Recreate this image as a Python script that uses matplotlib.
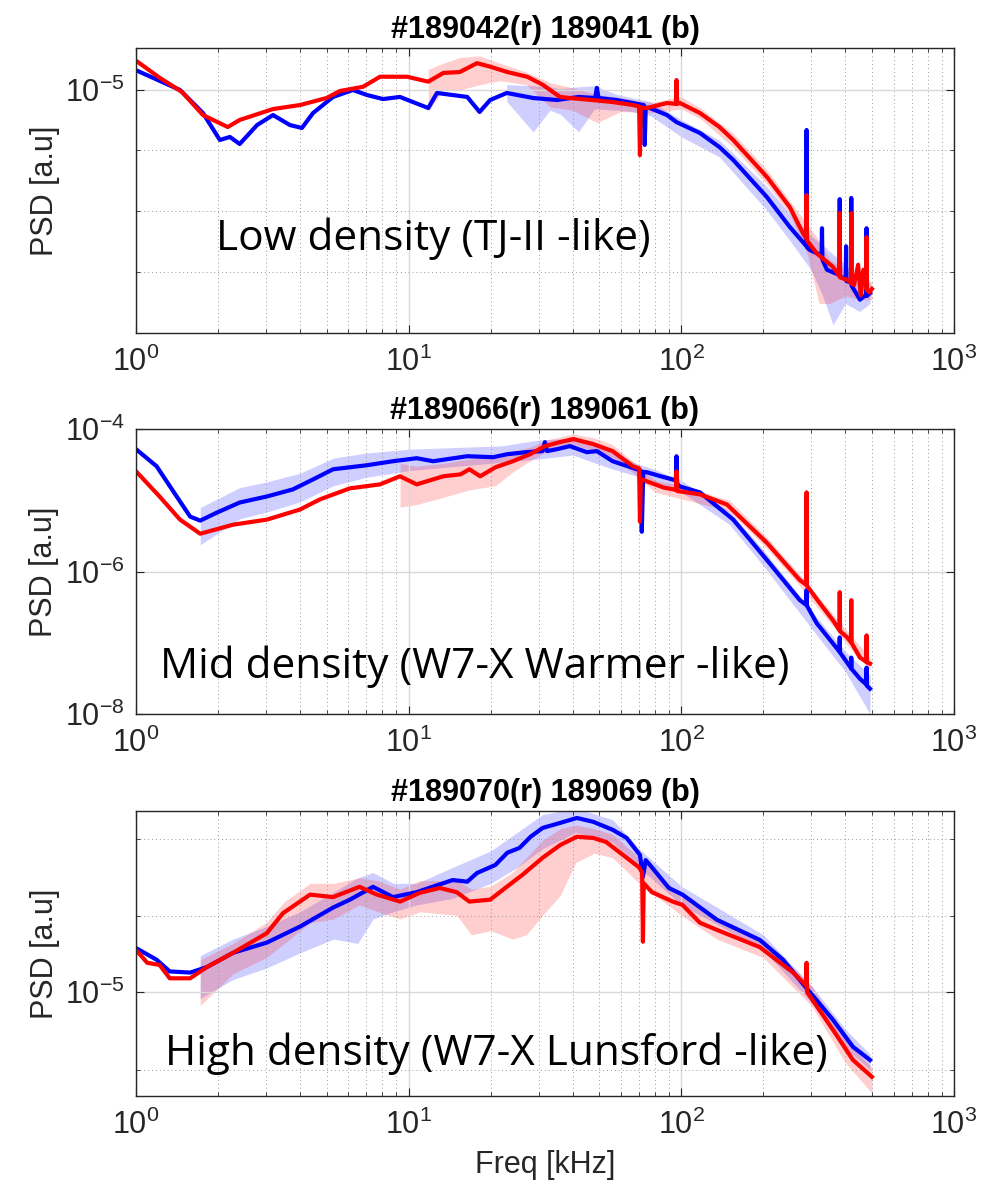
import numpy as np
import matplotlib.pyplot as plt
from matplotlib.ticker import FixedLocator, FixedFormatter, LogLocator, NullFormatter

plt.rcParams['font.family'] = ['Liberation Sans', 'DejaVu Sans']
plt.rcParams['mathtext.fontset'] = 'custom'
plt.rcParams['mathtext.rm'] = 'Liberation Sans'
plt.rcParams['mathtext.it'] = 'Liberation Sans:italic'
plt.rcParams['mathtext.bf'] = 'Liberation Sans:bold'

# ---------------- panel 1: #189042 (red) / 189041 (blue), low density
f1_blue = [1.0, 1.45, 1.76, 2.03, 2.21, 2.40, 2.78, 3.18, 3.67, 4.06, 4.46, 5.28, 6.25, 7.03,
           8.05, 9.29, 11.8, 12.7, 16.4, 18.2, 19.9, 22.9, 28.6, 35.0, 42.0, 48.3, 49.0, 49.7,
           58.0, 66.4, 72.8, 73.4, 74.0, 76.7, 88.6, 96.0, 117, 138, 155, 206, 250, 287, 288,
           289, 296, 327, 328, 329, 342, 380, 381, 382, 401, 402, 403, 419, 420, 421, 452, 477,
           478, 479, 492]
psd1_blue = np.array([12.0, 10.0, 8.09, 6.31, 6.49, 6.08, 7.24, 7.94, 7.24, 7.05, 8.09, 9.38, 10.0, 9.55,
             9.20, 9.38, 8.47, 9.73, 9.38, 8.17, 9.12, 9.73, 9.29, 9.12, 9.38, 9.29, 10.2, 9.29,
             9.12, 8.87, 8.70, 6.03, 8.50, 8.47, 7.94, 7.44, 6.73, 5.91, 5.25, 3.73, 2.83, 2.38, 6.92,
             2.35, 2.29, 2.18, 2.80, 2.10, 1.91, 1.82, 3.66, 1.80, 1.75, 2.37, 1.72, 1.70, 3.70, 1.65, 1.45, 1.52,
             2.80, 1.50, 1.54]) * 1e-6
f1_red = [1.0, 1.22, 1.475, 1.76, 2.17, 2.40, 3.18, 4.0, 5.0, 5.6, 6.8, 7.85, 9.86, 11.8, 13.4,
          15.4, 17.8, 19.9, 23.0, 27.2, 31.0, 35.9, 39.0, 47.0, 56.0, 66.4, 70.0, 70.5, 71.0, 74.8,
          88.6, 95.5, 96.0, 96.5, 98.9, 117, 138, 155, 206, 250, 279, 287, 288, 289, 314, 360, 380,
          381, 382, 405, 419, 420, 421, 430, 445, 455, 465, 477, 478, 479, 490, 500]
psd1_red = np.array([13.1, 11.2, 9.82, 7.94, 7.11, 7.59, 8.39, 8.71, 9.29, 9.91, 10.3, 11.3, 11.3, 10.8, 11.7,
            11.8, 12.8, 12.4, 11.8, 11.3, 10.5, 9.38, 9.29, 9.12, 8.95, 8.71, 8.6, 5.49, 8.5, 8.47,
            8.87, 8.8, 10.96, 8.8, 8.87, 8.09, 7.11, 6.31, 4.49, 3.40, 2.68, 2.55, 3.80, 2.50, 2.22, 1.96, 1.80,
            3.22, 1.78, 1.74, 1.70, 3.22, 1.68, 1.66, 2.0, 1.51, 1.91, 1.60, 2.58, 1.58, 1.55, 1.6]) * 1e-6
band1_blue_f = [22.9, 28.6, 33, 36, 42, 48, 58, 66, 77, 100, 138, 206, 250, 300, 330, 360, 400, 450, 492]
band1_blue_lo = np.array([9.0, 6.8, 8.3, 8.0, 6.8, 8.4, 8.3, 8.2, 7.9, 6.5, 5.4, 3.3, 2.5, 1.9, 1.5, 1.15, 1.4, 1.3, 1.4]) * 1e-6
band1_blue_hi = np.array([10.5, 10.4, 10.3, 10.1, 10.3, 10.4, 9.6, 9.3, 9.0, 7.6, 6.3, 4.1, 3.2, 2.6, 2.4, 2.2, 2.0, 1.7, 1.7]) * 1e-6
band1_red_f = [11.8, 13.4, 15.4, 18.2, 21.6, 27, 33, 40, 49, 60, 77, 100, 117, 155, 206, 250, 290, 320, 350, 400, 450, 500]
band1_red_lo = np.array([8.2, 10.0, 10.0, 10.5, 10.9, 10.5, 8.55, 8.3, 7.4, 8.2, 8.1, 8.4, 7.7, 5.9, 4.2, 3.2, 2.2, 1.4, 1.4, 1.5, 1.45, 1.45]) * 1e-6
band1_red_hi = np.array([12.1, 12.8, 13.5, 13.7, 12.8, 11.8, 10.7, 10.2, 9.6, 9.3, 8.9, 9.4, 8.5, 6.7, 4.8, 3.6, 2.9, 2.5, 2.1, 1.9, 1.8, 1.7]) * 1e-6

# ---------------- panel 2: #189066 (red) / 189061 (blue), mid density
f2_blue = [1.0, 1.19, 1.41, 1.58, 1.72, 1.98, 2.40, 3.02, 3.76, 4.46, 5.28, 7.03, 8.76, 10.7, 12.3,
           16.4, 20.4, 23.0, 27.0, 31.0, 31.6, 32.2, 35.0, 39.0, 45.0, 49.0, 56.0, 68.7, 71.0, 71.6,
           72.5, 74.8, 84.0, 95.5, 96.0, 96.5, 98.9, 117, 155, 206, 272, 287, 288, 289, 314, 360,
           380, 381, 382, 419, 420, 421, 452, 477, 478, 479, 492]
psd2_blue = [5.21e-5, 3.00e-5, 1.13e-5, 5.89e-6, 5.18e-6, 6.71e-6, 9.29e-6, 1.13e-5, 1.42e-5, 1.96e-5,
             2.72e-5, 3.10e-5, 3.53e-5, 3.89e-5, 3.53e-5, 4.15e-5, 4.02e-5, 4.43e-5, 4.73e-5, 4.9e-5,
             6.55e-5, 4.9e-5, 5.21e-5, 5.75e-5, 4.73e-5, 4.89e-5, 3.53e-5, 2.72e-5, 2.6e-5, 3.61e-6,
             2.5e-5, 2.47e-5, 2.17e-5, 1.9e-5, 4.15e-5, 1.7e-5, 1.56e-5, 1.29e-5, 5.35e-6, 1.45e-6,
             3.96e-7, 3.4e-7, 5.48e-7, 3.3e-7, 1.87e-7, 9.75e-8, 7.5e-8, 1.19e-7, 7.3e-8, 4.4e-8,
             6.19e-8, 4.3e-8, 3.12e-8, 2.6e-8, 4.47e-8, 2.5e-8, 2.26e-8]
f2_red = [1.0, 1.22, 1.45, 1.72, 2.27, 3.02, 3.99, 4.73, 6.09, 7.85, 9.29, 10.7, 13.4, 15.5, 16.7,
          18.3, 20.8, 24.1, 27.9, 31.6, 35.9, 40.2, 47.5, 56.0, 66.4, 70.0, 70.5, 71.0, 74.8, 86.0,
          95.5, 96.0, 96.5, 98.9, 117, 147, 206, 272, 287, 288, 289, 320, 360, 380, 381, 382, 405,
          419, 420, 421, 452, 477, 478, 479, 492]
psd2_red = [2.55e-5, 1.13e-5, 5.35e-6, 3.39e-6, 4.54e-6, 5.35e-6, 7.40e-6, 1.03e-5, 1.47e-5, 1.67e-5,
            2.17e-5, 1.67e-5, 2.17e-5, 2.31e-5, 2.72e-5, 2.17e-5, 2.90e-5, 3.53e-5, 4.43e-5, 5.75e-5,
            6.55e-5, 7.22e-5, 6.14e-5, 4.89e-5, 3.00e-5, 2.8e-5, 5.01e-6, 2.0e-5, 1.84e-5, 1.51e-5,
            1.4e-5, 2.55e-5, 1.35e-5, 1.33e-5, 1.21e-5, 8.71e-6, 2.53e-6, 7.58e-7, 6.5e-7, 1.29e-5,
            6.3e-7, 3.7e-7, 2.06e-7, 1.5e-7, 5.13e-7, 1.45e-7, 1.2e-7, 1.02e-7, 3.96e-7, 1.0e-7,
            6.19e-8, 5.4e-8, 1.27e-7, 5.3e-8, 5.09e-8]
band2_blue_f = [1.72, 2.4, 3.0, 4.0, 5.3, 7.0, 10, 15, 22, 30, 40, 55, 68, 80, 100, 150, 200, 300, 400, 492]
band2_blue_lo = [2.37e-6, 5.5e-6, 6.8e-6, 9.5e-6, 1.6e-5, 2.1e-5, 2.6e-5, 3.0e-5, 3.4e-5, 3.8e-5,
                 4.3e-5, 2.8e-5, 2.2e-5, 1.8e-5, 1.3e-5, 4.6e-6, 1.2e-6, 1.6e-7, 3.9e-8, 1.0e-8]
band2_blue_hi = [7.9e-6, 1.5e-5, 1.8e-5, 2.4e-5, 3.9e-5, 4.6e-5, 5.2e-5, 5.5e-5, 5.8e-5, 7.0e-5,
                 7.4e-5, 5.0e-5, 3.3e-5, 2.7e-5, 1.9e-5, 7.0e-6, 2.0e-6, 2.8e-7, 7.5e-8, 3.5e-8]
band2_red_f = [9.3, 10.7, 13.4, 16.7, 20.8, 24.1, 28, 32, 40, 48, 56, 66, 80, 100, 150, 206, 272, 360, 420, 492]
band2_red_lo = [8.0e-6, 8.7e-6, 1.1e-5, 1.4e-5, 1.6e-5, 2.5e-5, 3.6e-5, 4.8e-5, 6.0e-5, 5.0e-5,
                4.0e-5, 2.5e-5, 1.3e-5, 1.05e-5, 7.0e-6, 2.1e-6, 6.3e-7, 1.7e-7, 8.0e-8, 4.2e-8]
band2_red_hi = [3.3e-5, 3.0e-5, 3.3e-5, 3.8e-5, 4.2e-5, 4.8e-5, 5.6e-5, 7.0e-5, 8.5e-5, 7.5e-5,
                6.0e-5, 3.6e-5, 1.9e-5, 1.6e-5, 1.0e-5, 3.0e-6, 9.0e-7, 2.5e-7, 1.25e-7, 6.2e-8]

# ---------------- panel 3: #189070 (red) / 189069 (blue), high density
f3_blue = [1.0, 1.19, 1.33, 1.58, 1.82, 2.27, 3.02, 3.99, 5.28, 6.09, 7.40, 8.76, 10.7, 14.5, 16.4,
           17.8, 20.8, 23.0, 25.5, 28.0, 31.0, 36.0, 41.4, 47.5, 56.0, 63.0, 70.5, 72.3, 74.0, 76.7,
           90.0, 101, 135, 194, 236, 285, 360, 426, 492]
psd3_blue = [1.40e-5, 1.28e-5, 1.17e-5, 1.16e-5, 1.21e-5, 1.35e-5, 1.46e-5, 1.65e-5, 1.91e-5, 2.03e-5,
             2.24e-5, 2.07e-5, 2.15e-5, 2.36e-5, 2.33e-5, 2.49e-5, 2.65e-5, 2.91e-5, 3.02e-5, 3.29e-5,
             3.52e-5, 3.66e-5, 3.80e-5, 3.69e-5, 3.47e-5, 3.26e-5, 2.86e-5, 2.42e-5, 2.75e-5, 2.65e-5,
             2.22e-5, 2.11e-5, 1.74e-5, 1.49e-5, 1.28e-5, 1.04e-5, 8.07e-6, 6.56e-6, 5.93e-6]
f3_red = [1.0, 1.10, 1.22, 1.33, 1.58, 1.82, 2.27, 3.02, 3.46, 4.35, 5.28, 6.6, 7.65, 9.3, 11.0,
          13.0, 15.0, 16.7, 19.9, 22.9, 26.2, 31.0, 36.0, 41.4, 47.5, 53.0, 63.0, 70.0, 71.8, 72.3,
          72.8, 78.0, 93.0, 101, 117, 135, 194, 257, 287, 288, 289, 360, 426, 500]
psd3_red = [1.38e-5, 1.25e-5, 1.23e-5, 1.11e-5, 1.11e-5, 1.21e-5, 1.35e-5, 1.57e-5, 1.83e-5, 2.11e-5,
            2.07e-5, 2.24e-5, 2.11e-5, 2.00e-5, 2.14e-5, 2.22e-5, 2.15e-5, 2.00e-5, 2.03e-5, 2.24e-5,
            2.46e-5, 2.80e-5, 3.09e-5, 3.29e-5, 3.26e-5, 3.16e-5, 2.80e-5, 2.6e-5, 2.5e-5, 1.47e-5,
            2.3e-5, 2.15e-5, 2.00e-5, 1.95e-5, 1.70e-5, 1.61e-5, 1.41e-5, 1.16e-5, 1.05e-5, 1.25e-5,
            1.0e-5, 7.47e-6, 5.93e-6, 5.21e-6]
band3_blue_f = [1.72, 2.27, 3.0, 4.0, 5.3, 6.5, 7.4, 8.8, 10.7, 14.5, 20, 25, 31, 41, 56, 70, 100, 200, 300, 400, 492]
band3_blue_lo = [0.95e-5, 1.1e-5, 1.2e-5, 1.35e-5, 1.5e-5, 1.45e-5, 1.75e-5, 1.85e-5, 1.95e-5, 2.05e-5,
                 2.3e-5, 2.6e-5, 3.0e-5, 3.4e-5, 3.15e-5, 2.6e-5, 1.95e-5, 1.38e-5, 0.92e-5, 6.5e-6, 5.5e-6]
band3_blue_hi = [1.32e-5, 1.5e-5, 1.65e-5, 1.85e-5, 2.15e-5, 2.4e-5, 2.5e-5, 2.3e-5, 2.3e-5, 2.6e-5,
                 2.95e-5, 3.4e-5, 3.9e-5, 4.1e-5, 3.75e-5, 3.0e-5, 2.25e-5, 1.55e-5, 1.05e-5, 7.5e-6, 6.2e-6]
band3_red_f = [1.72, 2.27, 3.0, 3.5, 4.35, 5.3, 6.6, 7.7, 9.3, 11, 15, 17, 20, 24, 27, 31, 36, 41, 48,
               56, 70, 100, 135, 200, 300, 400, 500]
band3_red_lo = [0.9e-5, 1.15e-5, 1.3e-5, 1.45e-5, 1.7e-5, 1.75e-5, 1.95e-5, 1.85e-5, 1.75e-5, 1.85e-5,
                1.8e-5, 1.55e-5, 1.6e-5, 1.5e-5, 1.55e-5, 1.8e-5, 2.1e-5, 2.7e-5, 2.9e-5, 2.8e-5,
                2.3e-5, 1.8e-5, 1.5e-5, 1.3e-5, 0.9e-5, 5.8e-6, 4.6e-6]
band3_red_hi = [1.28e-5, 1.45e-5, 1.7e-5, 2.0e-5, 2.3e-5, 2.3e-5, 2.4e-5, 2.35e-5, 2.2e-5, 2.35e-5,
                2.35e-5, 2.2e-5, 2.25e-5, 2.5e-5, 2.8e-5, 3.2e-5, 3.5e-5, 3.6e-5, 3.5e-5, 3.35e-5,
                2.8e-5, 2.1e-5, 1.75e-5, 1.5e-5, 1.05e-5, 6.9e-6, 5.6e-6]

titles = ['#189042(r) 189041 (b)', '#189066(r) 189061 (b)', '#189070(r) 189069 (b)']
notes = ['Low density (TJ-II -like)', 'Mid density (W7-X Warmer -like)',
         'High density (W7-X Lunsford -like)']
xtick_labels = [r'$\mathregular{10^{0}}$', r'$\mathregular{10^{1}}$',
                r'$\mathregular{10^{2}}$', r'$\mathregular{10^{3}}$']

fig = plt.figure(figsize=(9.98, 11.92), dpi=100)
W, H = 998, 1192
tops = [48, 429, 811]
axes = [fig.add_axes([136 / W, 1 - (t + 285) / H, 818 / W, 285 / H]) for t in tops]

panels = [
    (f1_blue, psd1_blue, f1_red, psd1_red, band1_blue_f, band1_blue_lo, band1_blue_hi,
     band1_red_f, band1_red_lo, band1_red_hi),
    (f2_blue, psd2_blue, f2_red, psd2_red, band2_blue_f, band2_blue_lo, band2_blue_hi,
     band2_red_f, band2_red_lo, band2_red_hi),
    (f3_blue, psd3_blue, f3_red, psd3_red, band3_blue_f, band3_blue_lo, band3_blue_hi,
     band3_red_f, band3_red_lo, band3_red_hi),
]

# y-axis setup per panel (MATLAB picked odd minor ticks on the short log ranges)
ylims = [(10**-5.972, 10**-4.832), (1e-8, 1e-4), (10**-5.347, 10**-4.397)]
ymajor = [[1e-5], [1e-8, 1e-6, 1e-4], [1e-5]]
ymajor_lab = [[r'$\mathregular{10^{-5}}$'],
              [r'$\mathregular{10^{-8}}$', r'$\mathregular{10^{-6}}$', r'$\mathregular{10^{-4}}$'],
              [r'$\mathregular{10^{-5}}$']]
yminor = [[10**-5.24, 10**-5.484, 10**-5.728], None, [10**-4.49, 10**-4.747, 10**-5.26]]
note_pos = [(0.0978, 0.291), (0.0293, 0.126), (0.0355, 0.109)]

for i, ax in enumerate(axes):
    fb, pb, fr, pr, bbf, bblo, bbhi, brf, brlo, brhi = panels[i]
    ax.fill_between(bbf, bblo, bbhi, color=(0.2, 0.2, 1.0), alpha=0.24, lw=0)
    ax.fill_between(brf, brlo, brhi, color=(1.0, 0.2, 0.2), alpha=0.24, lw=0)
    ax.plot(fb, pb, color='b', lw=3.0)
    ax.plot(fr, pr, color='r', lw=3.0)

    ax.set_xscale('log')
    ax.set_yscale('log')
    ax.set_xlim(1, 1000)
    ax.set_ylim(*ylims[i])
    ax.xaxis.set_major_locator(FixedLocator([1, 10, 100, 1000]))
    ax.xaxis.set_major_formatter(FixedFormatter(xtick_labels))
    ax.xaxis.set_minor_locator(LogLocator(base=10, subs=np.arange(2, 10)))
    ax.xaxis.set_minor_formatter(NullFormatter())
    ax.yaxis.set_major_locator(FixedLocator(ymajor[i]))
    ax.yaxis.set_major_formatter(FixedFormatter(ymajor_lab[i]))
    if yminor[i] is None:
        ax.yaxis.set_minor_locator(LogLocator(base=10, subs=np.arange(1, 10)))
    else:
        ax.yaxis.set_minor_locator(FixedLocator(yminor[i]))
    ax.yaxis.set_minor_formatter(NullFormatter())

    ax.grid(which='major', color='0.85', lw=1.0, ls='-')
    ax.grid(which='minor', color='0.6', lw=0.7, ls=(0, (1, 3)))
    ax.tick_params(which='both', direction='in', top=True, right=True, colors='0.15',
                   labelsize=22)
    ax.tick_params(axis='x', which='major', pad=10)
    ax.tick_params(axis='y', which='major', pad=8)
    ax.tick_params(which='major', length=6, width=0.8)
    ax.tick_params(which='minor', length=3, width=0.6)
    for s in ax.spines.values():
        s.set_color('0.15')
        s.set_linewidth(1.0)

    ax.set_title(titles[i], fontsize=22, fontweight='bold', pad=7)
    ax.set_ylabel('PSD [a.u]', fontsize=22, color='0.15', labelpad=4)
    ax.text(note_pos[i][0], note_pos[i][1], notes[i], transform=ax.transAxes,
            fontsize=30.5, family='Open Sans', va='baseline', color='black')

axes[2].set_xlabel('Freq [kHz]', fontsize=22, color='0.15', labelpad=6)

fig.savefig('out.png', dpi=100)
